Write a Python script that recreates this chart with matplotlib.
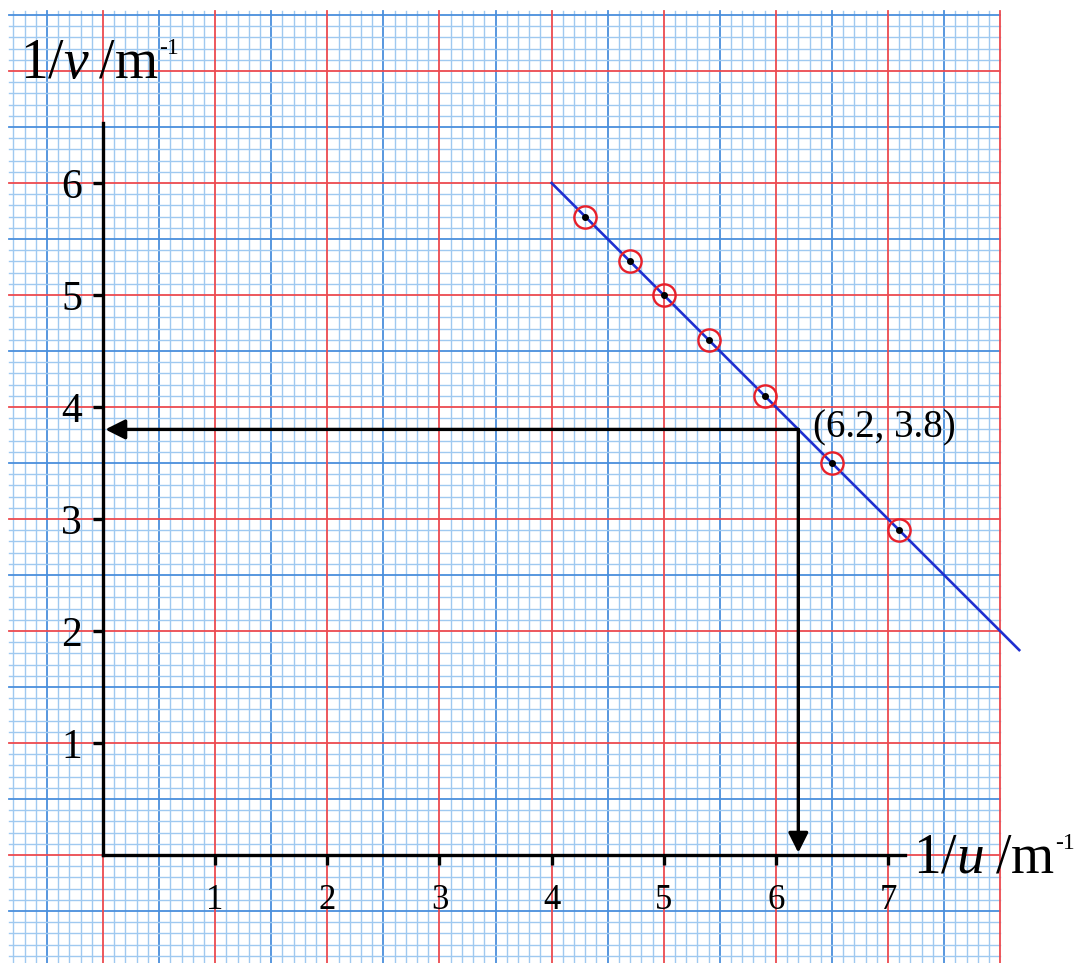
import numpy as np
import matplotlib
matplotlib.use("Agg")
import matplotlib.pyplot as plt
from matplotlib.transforms import offset_copy

# ---- data ----
inv_u = [4.3, 4.7, 5.0, 5.4, 5.9, 6.5, 7.1]
inv_v = [5.7, 5.3, 5.0, 4.6, 4.1, 3.5, 2.9]
fit_x = [4.0, 8.17]
fit_y = [6.0, 1.83]
read_point = (6.2, 3.8)
x_ticks = [1, 2, 3, 4, 5, 6, 7]
y_ticks = [1, 2, 3, 4, 5, 6]
x_tick_labels = ["1", "2", "3", "4", "5", "6", "7"]
y_tick_labels = ["1", "2", "3", "4", "5", "6"]

plt.rcParams["font.family"] = ["Liberation Serif", "DejaVu Serif"]
plt.rcParams["mathtext.fontset"] = "custom"
plt.rcParams["mathtext.rm"] = "Liberation Serif"
plt.rcParams["mathtext.it"] = "Liberation Serif:italic"
plt.rcParams["mathtext.default"] = "rm"

fig = plt.figure(figsize=(10.78, 9.63), dpi=100)
ax = fig.add_axes([0, 0, 1, 1])
ax.set_xlim(-0.9185, 8.694)
ax.set_ylim(-0.964, 7.634)

# ---- graph paper ----
gx0, gx1 = -0.84, 8.0
gy0, gy1 = -0.964, 7.54
minor_c = "#9fc9f0"
half_c = "#4a8fdc"
red_c = "#ec4a4f"
for i in range(-8, 81):
    v = i / 10
    if i % 10 == 0:
        continue
    c, lw = (half_c, 1.3) if i % 5 == 0 else (minor_c, 1.0)
    ax.plot([v, v], [gy0, gy1], color=c, lw=lw, zorder=0.5)
for j in range(-9, 76):
    h = j / 10
    if j % 10 == 0:
        continue
    c, lw = (half_c, 1.3) if j % 5 == 0 else (minor_c, 1.0)
    ax.plot([gx0, gx1], [h, h], color=c, lw=lw, zorder=0.5)
for k in range(0, 9):
    ax.plot([k, k], [gy0, gy1], color=red_c, lw=1.3, zorder=0.8)
for k in range(0, 8):
    ax.plot([gx0, gx1], [k, k], color=red_c, lw=1.3, zorder=0.8)

# ---- axes as spines ----
for s in ["top", "right"]:
    ax.spines[s].set_visible(False)
ax.spines["left"].set_position(("data", 0))
ax.spines["bottom"].set_position(("data", 0))
ax.spines["left"].set_bounds(0, 6.54)
ax.spines["bottom"].set_bounds(0, 7.15)
for s in ["left", "bottom"]:
    ax.spines[s].set_linewidth(2.4)
    ax.spines[s].set_zorder(3)
ax.set_xticks(x_ticks)
ax.set_xticklabels(x_tick_labels)
ax.set_yticks(y_ticks)
ax.set_yticklabels(y_tick_labels)
ax.tick_params(axis="x", direction="out", length=7, width=2.4, pad=14, labelsize=25)
ax.tick_params(axis="y", direction="out", length=7, width=2.4, pad=8, labelsize=30)

# ---- fit line and points ----
ax.plot(fit_x, fit_y, color="#1f2fd0", lw=1.9, zorder=4)
ax.plot(inv_u, inv_v, linestyle="none", marker="o", markersize=16,
        markerfacecolor="none", markeredgecolor="#e8202a", markeredgewidth=1.7, zorder=5)
ax.plot(inv_u, inv_v, linestyle="none", marker="o", markersize=4,
        color="black", zorder=6)

# ---- reading arrows ----
px, py = read_point
ax.annotate("", xy=(0.02, py), xytext=(px, py),
            arrowprops=dict(arrowstyle="-|>", color="black", lw=2.4,
                            mutation_scale=30, shrinkA=0, shrinkB=0), zorder=4)
ax.annotate("", xy=(px, 0.02), xytext=(px, py),
            arrowprops=dict(arrowstyle="-|>", color="black", lw=2.4,
                            mutation_scale=30, shrinkA=0, shrinkB=0), zorder=4)
ax.text(6.33, 3.81, "(6.2, 3.8)", fontsize=28, va="center", ha="left", zorder=6)

# ---- axis labels ----
renderer = fig.canvas.get_renderer()


def unit_label(x, y, var):
    t = ax.text(x, y, r"$1/\mathit{" + var + r"}\;/\mathrm{m}$", fontsize=40,
                ha="left", va="baseline", zorder=6)
    bb = t.get_window_extent(renderer=renderer)
    xd, _ = ax.transData.inverted().transform((bb.x1 + 1, 0))
    ax.text(xd, y, "-1", fontsize=17, ha="left", va="baseline", zorder=6,
            transform=offset_copy(ax.transData, fig=fig, x=0, y=17, units="points"))


unit_label(-0.74, 6.94, "v")
unit_label(7.22, -0.16, "u")

fig.savefig("out.png", dpi=100)
